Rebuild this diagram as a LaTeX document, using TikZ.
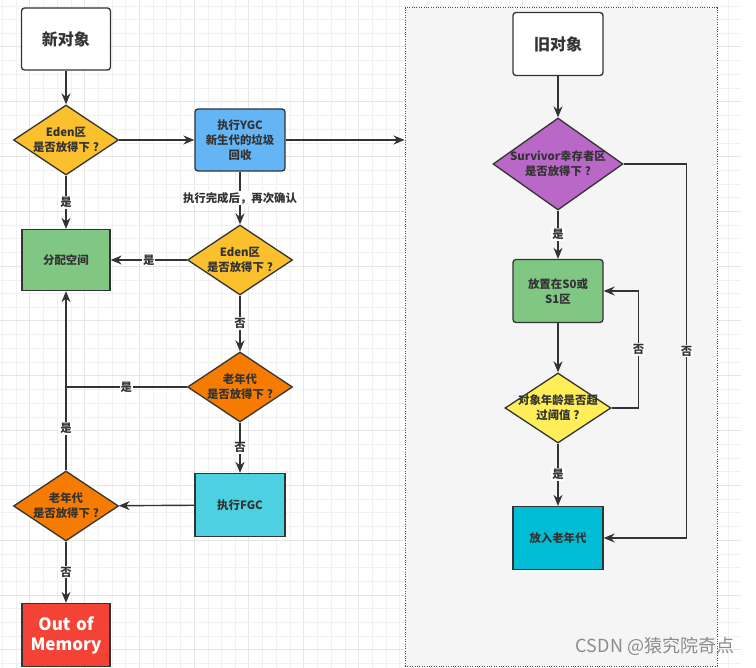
\documentclass[tikz,border=0pt]{standalone}
\usepackage{fontspec}
\setmainfont{Noto Sans CJK SC}
\usetikzlibrary{shapes.geometric,arrows.meta}

\definecolor{linegray}{HTML}{333333}
\definecolor{textgray}{HTML}{333333}
\definecolor{edenyellow}{HTML}{FBC02D}
\definecolor{ygcblue}{HTML}{64B5F6}
\definecolor{allocgreen}{HTML}{81C784}
\definecolor{oldorange}{HTML}{F57C00}
\definecolor{fgccyan}{HTML}{4DD0E1}
\definecolor{oomred}{HTML}{F44336}
\definecolor{survpurple}{HTML}{BA68C8}
\definecolor{ageyellow}{HTML}{FFEE58}
\definecolor{tenurecyan}{HTML}{00BCD4}
\definecolor{zonegray}{HTML}{F5F5F5}
\definecolor{gridminor}{HTML}{F1F1F1}
\definecolor{gridmajor}{HTML}{E6E6E6}

% text inside a diamond: does not size the shape
\newcommand{\dtxt}[1]{\smash{\makebox[0pt]{\raisebox{-4pt}{\begin{tabular}{@{}c@{}}#1\end{tabular}}}}}
% centred full-width question mark
\newcommand{\qm}{\hspace{0.25em}?\hspace{0.2em}}

\tikzset{
  nodefont/.style={font=\bfseries\fontsize{11.4}{15}\selectfont, text=textgray},
  box/.style={draw=linegray, line width=1.3pt, minimum width=89pt, minimum height=62pt,
    inner sep=0pt, text width=86pt, align=center, nodefont},
  rbox/.style={box, rounded corners=3pt},
  startbox/.style={rbox, fill=white, font=\bfseries\fontsize{16}{20}\selectfont},
  decide/.style={draw=linegray, line width=1.3pt, diamond, minimum width=105pt,
    minimum height=70pt, inner sep=0pt, nodefont},
  flow/.style={draw=linegray, line width=1.4pt, -{Stealth[length=11pt,width=9pt]}},
  link/.style={draw=linegray, line width=1.4pt},
  lab/.style={fill=white, inner sep=1pt, nodefont},
}

\begin{document}
\begin{tikzpicture}[x=1pt,y=-1pt]
\useasboundingbox (0,0) rectangle (756,668);
\fill[white] (0,0) rectangle (756,668);

% background grid
\foreach \i in {0,...,53}{
  \pgfmathsetmacro\gx{2.3+13.7*\i}
  \pgfmathtruncatemacro\m{mod(\i,4)}
  \ifnum\m=2 \draw[gridmajor,line width=1pt] (\gx,0) -- (\gx,668);
  \else \draw[gridminor,line width=0.6pt] (\gx,0) -- (\gx,668); \fi
}
\foreach \j in {0,...,48}{
  \pgfmathsetmacro\gy{5.9+13.7*\j}
  \pgfmathtruncatemacro\m{mod(\j,4)}
  \ifnum\m=3 \draw[gridmajor,line width=1pt] (0,\gy) -- (741,\gy);
  \else \draw[gridminor,line width=0.6pt] (0,\gy) -- (741,\gy); \fi
}

% old object area
\node[draw=linegray!85, fill=zonegray, line width=1pt, dash pattern=on 1pt off 1.4pt,
  minimum width=312pt, minimum height=658pt, inner sep=0pt] (oldzone) at (561,337) {};

% new objects
\node[startbox] (new) at (66,39) {新对象};
\node[decide, fill=edenyellow] (eden1) at (66,140) {\dtxt{Eden区\\是否放得下\qm}};
\node[rbox, fill=ygcblue, minimum width=90pt] (ygc) at (240,140) {执行YGC\\新生代的垃圾\\回收};
\node[decide, fill=edenyellow] (eden2) at (240,260) {\dtxt{Eden区\\是否放得下\qm}};
\node[box, fill=allocgreen, minimum width=88pt, minimum height=61pt] (alloc) at (66,260) {分配空间};
\node[decide, fill=oldorange] (old1) at (240,387) {\dtxt{老年代\\是否放得下\qm}};
\node[box, fill=fgccyan, minimum width=90pt, minimum height=63pt] (fgc) at (240,505) {执行FGC};
\node[decide, fill=oldorange] (old2) at (66,506) {\dtxt{老年代\\是否放得下\qm}};
\node[box, fill=oomred, minimum width=88pt, minimum height=63pt, text=white,
  font=\bfseries\fontsize{17}{20}\selectfont] (oom) at (66,635) {Out of\\Memory};

% old objects
\node[startbox, minimum width=90pt, minimum height=63pt] (oldobj) at (558,44) {旧对象};
\node[decide, fill=survpurple, minimum width=130pt, minimum height=92pt] (surv) at (558,164) {\dtxt{Survivor幸存者区\\是否放得下\qm}};
\node[rbox, fill=allocgreen, minimum width=90pt, minimum height=63pt] (s0) at (558,291) {放置在S0或\\S1区};
\node[decide, fill=ageyellow, minimum width=106pt] (age) at (558,408) {\dtxt{对象年龄是否超\\过阈值\qm}};
\node[box, fill=tenurecyan, minimum width=90pt, minimum height=63pt] (tenure) at (558,538) {放入老年代};

% connectors
\draw[flow] (new) -- (eden1);
\draw[flow] (eden1) -- (ygc);
\draw[flow] (ygc) -- (ygc -| oldzone.west);
\draw[flow] (ygc) -- node[lab] {执行完成后，再次确认} (eden2);
\draw[flow] (eden1) -- node[lab] {是} (alloc);
\draw[flow] (eden2) -- node[lab] {是} (alloc);
\draw[flow] (eden2) -- node[lab] {否} (old1);
\draw[link] (old1.west) -- node[lab] {是} (old1 -| alloc);
\draw[flow] (old2.north) -- node[lab] {是} (old1 -| alloc) -- (alloc.south);
\draw[flow] (old1) -- node[lab] {否} (fgc);
\draw[flow] (fgc) -- (old2);
\draw[flow] (old2) -- node[lab] {否} (oom);

\draw[flow] (oldobj) -- (surv);
\draw[flow] (surv) -- node[lab] {是} (s0);
\draw[flow] (s0) -- (age);
\draw[flow] (age.east) -| node[lab, pos=0.75] {否} ([xshift=35pt]s0.east) -- (s0.east);
\draw[flow] (surv.east) -| node[lab, pos=0.75] {否} ([xshift=83pt]tenure.east) -- (tenure.east);
\draw[flow] (age) -- node[lab] {是} (tenure);

\node[text=black!45, font=\fontsize{18}{20}\selectfont] (mark) at (655,646) {CSDN @猿究院奇点};
\end{tikzpicture}
\end{document}
